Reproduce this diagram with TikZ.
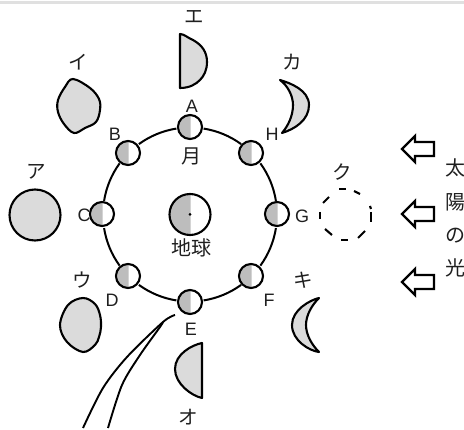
\documentclass[tikz,border=0pt]{standalone}
\usepackage{fontspec}
\setmainfont{Liberation Sans}
\newfontfamily\jpfont{Noto Sans CJK JP}
\definecolor{palegray}{gray}{0.86}
\definecolor{darkside}{gray}{0.74}
\definecolor{inktext}{gray}{0.12}
% one moon on the orbit: dark half on the left, ring on top
\newcommand{\moonbody}[2]{%
  \fill[darkside] (#1+0.7,#2-11.5) -- (#1+0.7,#2+11.5) arc (90:270:11.5) -- cycle;
  \draw[line width=2.1] (#1,#2) circle (12);
}
\tikzset{
  x=1pt,y=-1pt,
  phase/.style={line width=2.1,line join=round,line cap=round,fill=palegray},
  orbit/.style={line width=2},
  sunarrow/.style={line width=2.3,line join=miter,fill=white},
  latin/.style={font=\fontsize{18}{18}\selectfont,text=inktext,inner sep=0pt},
  kana/.style={font=\jpfont\fontsize{19.5}{19.5}\selectfont,text=inktext,inner sep=0pt},
  hanzi/.style={font=\jpfont\fontsize{20}{20}\selectfont,text=inktext,inner sep=0pt},
  dashpiece/.style={line width=2.1},
  pointer/.style={line width=1.9,line join=round}
}
\begin{document}
\begin{tikzpicture}
\useasboundingbox (0,0) rectangle (464,430);
\fill[black!12] (0,1) rectangle (464,3.7);

% orbit of the moon, broken at each position
\foreach \a in {0,45,...,315}
  \draw[orbit] ({190+87*cos(\a+9)},{214.5+87*sin(\a+9)}) arc (\a+9:\a+36:87);

% position letter C sits partly under the moon beside it
\node[latin] (lc) at (84,215) {C};

% moon positions on the orbit
\moonbody{190}{127}
\moonbody{128}{153}
\moonbody{102}{214}
\moonbody{128}{276}
\moonbody{190}{302}
\moonbody{251}{276}
\moonbody{277}{214}
\moonbody{251}{153}

% earth
\fill[darkside] (190.7,194) -- (190.7,235) arc (90:270:20.5) -- cycle;
\draw[line width=2.1] (190,214.5) circle (20.5);
\fill (190,214.5) circle (1.5);

% moon as seen from the earth
\draw[phase] (35,215) circle (25.5);
\draw[phase] plot[smooth cycle,tension=0.6] coordinates {(73,79) (90,88) (99,99) (100,110) (96,122) (85,128) (74,133) (64,124) (58,112) (58,100) (65,87)};
\draw[phase] (180,34) .. controls (184,34) and (188,38) .. (193,40) .. controls (202,45) and (207,52) .. (207,62) .. controls (207,70) and (204,76) .. (200,80) .. controls (196,84) and (190,88) .. (180,88) -- cycle;
\draw[phase] (280,80) .. controls (290,83) and (309,90) .. (309,105) .. controls (309,120) and (295,129) .. (282,133) .. controls (288,126) and (293,116) .. (293,105) .. controls (293,96) and (288,86) .. (280,80) -- cycle;
\draw[phase] plot[smooth cycle,tension=0.6] coordinates {(83,298) (95,304) (100,315) (101,327) (99,337) (95,345) (83,352) (67,342) (60,325) (68,305)};
\draw[phase] (202,343) .. controls (192,345) and (175,354) .. (175,369) .. controls (175,384) and (192,396) .. (202,398) -- cycle;
\draw[phase] (319,298) .. controls (310,300) and (292,310) .. (292,325) .. controls (292,341) and (310,351) .. (319,352) .. controls (312,345) and (306,335) .. (306,325) .. controls (306,315) and (312,305) .. (319,298) -- cycle;

% new moon, drawn as broken pieces of a circle
\draw[dashpiece] (339,189) -- (346,189);
\draw[dashpiece] (354,191) -- (360,194);
\draw[dashpiece] (370,206) -- (371,209);
\draw[dashpiece] (371,212) -- (371,222);
\draw[dashpiece] (365,231) -- (358,238);
\draw[dashpiece] (341,240) -- (348,240);
\draw[dashpiece] (325,229) -- (332,235);
\draw[dashpiece] (320,212) -- (320,219);
\draw[dashpiece] (323,203) -- (329,197);

% the long pointer up to position E
\draw[pointer] plot[smooth,tension=0.5] coordinates {(83,428) (103,388) (127,357) (163,322) (175,315)};
\draw[pointer] plot[smooth,tension=0.5] coordinates {(163,322) (160,327) (140,355) (122,385) (108,428)};

% sunlight arrows
\foreach \ay in {149,214,282}
  \draw[sunarrow] (434,\ay-7) -- (415,\ay-7) -- (415,\ay-13) -- (402,\ay) -- (415,\ay+13) -- (415,\ay+7) -- (434,\ay+7) -- cycle;

% position letters
\node[latin] (la) at (192,106) {A};
\node[latin] (lb) at (115,134) {B};
\node[latin] (ld) at (112,300) {D};
\node[latin] (le) at (191,329) {E};
\node[latin] (lf) at (269,300) {F};
\node[latin] (lg) at (302,216) {G};
\node[latin] (lh) at (272,134) {H};

% phase labels
\node[kana] (ka) at (36,172) {ア};
\node[kana] (ki) at (78,62) {イ};
\node[kana] (ku) at (82,280) {ウ};
\node[kana] (ke) at (194,17) {エ};
\node[kana] (ko) at (188,417) {オ};
\node[kana] (kk) at (292,62) {カ};
\node[kana] (kq) at (303,280) {キ};
\node[kana] (kg) at (342,172) {ク};

% named bodies and the vertical caption
\node[hanzi] (moon) at (191,156) {月};
\node[hanzi] (earth) at (191,248) {地球};
\node[hanzi] (t1) at (455,168) {太};
\node[hanzi] (t2) at (455,202) {陽};
\node[hanzi] (t3) at (455,236) {の};
\node[hanzi] (t4) at (455,268) {光};
\end{tikzpicture}
\end{document}
